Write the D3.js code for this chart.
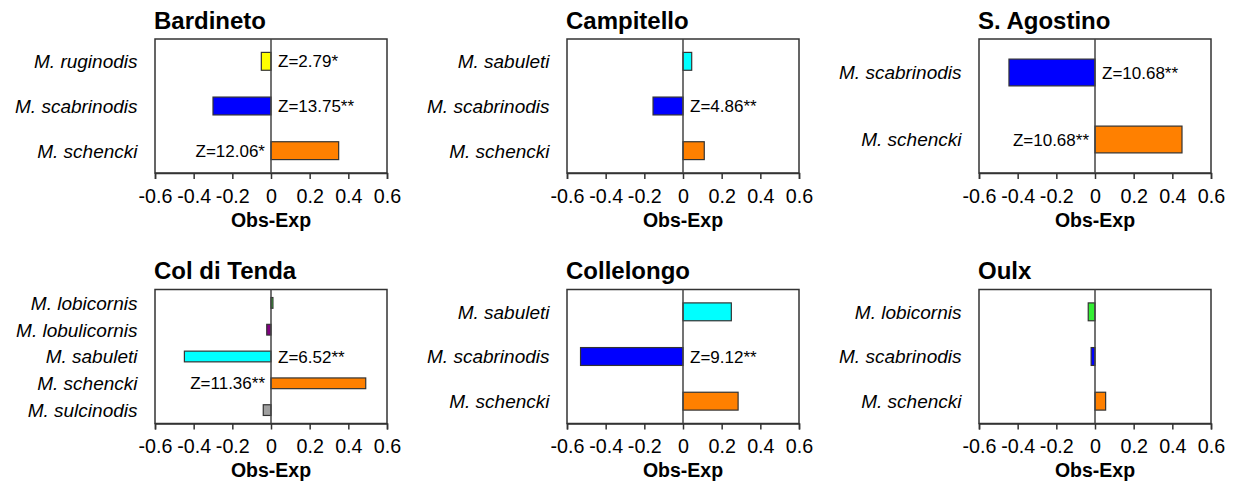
<!DOCTYPE html>
<html>
<head>
<meta charset="utf-8">
<script src="https://cdn.jsdelivr.net/npm/d3@7"></script>
<style>
    body { margin: 0; background: #fff; }
    svg text { font-family: "Liberation Sans", Arial, sans-serif; fill: #000; }
</style>
</head>
<body>
<div id="chart-area"></div>
<script>
/*
Obs-Exp of Myrmica species found at each site.
Z score is written next to the zero line where it was significant.
*/

const siteNames = ["Bardineto", "Campitello", "S. Agostino", "Col di Tenda", "Collelongo", "Oulx"];

const siteSpecies = [
    ["M. ruginodis", "M. scabrinodis", "M. schencki"],
    ["M. sabuleti", "M. scabrinodis", "M. schencki"],
    ["M. scabrinodis", "M. schencki"],
    ["M. lobicornis", "M. lobulicornis", "M. sabuleti", "M. schencki", "M. sulcinodis"],
    ["M. sabuleti", "M. scabrinodis", "M. schencki"],
    ["M. lobicornis", "M. scabrinodis", "M. schencki"]
];

const siteValues = [
    [-0.05, -0.30, 0.35],
    [0.045, -0.155, 0.11],
    [-0.445, 0.45],
    [0.01, -0.022, -0.448, 0.49, -0.04],
    [0.25, -0.53, 0.285],
    [-0.035, -0.02, 0.055]
];

const siteZLabels = [
    ["Z=2.79*", "Z=13.75**", "Z=12.06*"],
    [null, "Z=4.86**", null],
    ["Z=10.68**", "Z=10.68**"],
    [null, null, "Z=6.52**", "Z=11.36**", null],
    [null, "Z=9.12**", null],
    [null, null, null]
];

const xTicks = [-0.6, -0.4, -0.2, 0, 0.2, 0.4, 0.6];

const speciesColours = {
    "M. ruginodis": "#ffff00",
    "M. scabrinodis": "#0000ff",
    "M. schencki": "#ff8000",
    "M. sabuleti": "#00ffff",
    "M. lobicornis": "#33ee33",
    "M. lobulicornis": "#800080",
    "M. sulcinodis": "#a0a0a0"
};

class ObsExpPanel {

    constructor(svg, index) {
        this.svg = svg;
        this.index = index;

        this.initVis();
    }

    initVis() {
        let vis = this;

        vis.width = 232;
        vis.height = 134;
        let left = [155, 567, 979][vis.index % 3];
        let top = [39, 289.5][Math.floor(vis.index / 3)];

        vis.g = vis.svg.append("g")
            .attr("transform", `translate(${left}, ${top})`);

        vis.x = d3.scaleLinear()
            .domain([-0.6, 0.6])
            .range([0, vis.width]);

        vis.y = d3.scaleBand()
            .domain(siteSpecies[vis.index])
            .range([0, vis.height])
            .paddingInner(0.6)
            .paddingOuter(0.3);

        // title
        vis.g.append("text")
            .attr("x", -1)
            .attr("y", -10.5)
            .style("font-size", "24px")
            .style("font-weight", "bold")
            .text(siteNames[vis.index]);

        vis.wrangleData();
    }

    wrangleData() {
        let vis = this;

        vis.displayData = siteSpecies[vis.index].map((sp, i) => ({
            species: sp,
            value: siteValues[vis.index][i],
            z: siteZLabels[vis.index][i]
        }));

        vis.updateVis();
    }

    updateVis() {
        let vis = this;

        // frame
        vis.g.append("rect")
            .attr("width", vis.width)
            .attr("height", vis.height)
            .attr("fill", "none")
            .attr("stroke", "#333")
            .attr("stroke-width", 1.5);

        // x axis
        let xAxis = d3.axisBottom(vis.x)
            .tickValues(xTicks)
            .tickSize(6)
            .tickPadding(10)
            .tickFormat(d => d === 0 ? "0" : d.toFixed(1));

        let axisG = vis.g.append("g")
            .attr("transform", `translate(0, ${vis.height})`)
            .call(xAxis);
        axisG.select(".domain").attr("stroke", "#333").attr("stroke-width", 1.5);
        axisG.selectAll(".tick line").attr("stroke", "#333").attr("stroke-width", 1.5);
        axisG.selectAll(".tick text")
            .style("font-size", "19.7px")
            .style("font-family", "'Liberation Sans', Arial, sans-serif")
            .attr("fill", "#000");

        vis.g.append("text")
            .attr("x", vis.x(0))
            .attr("y", vis.height + 53.5)
            .attr("text-anchor", "middle")
            .style("font-size", "19.5px")
            .style("font-weight", "bold")
            .text("Obs-Exp");

        // species labels
        vis.g.selectAll(".sp-label")
            .data(vis.displayData)
            .enter().append("text")
            .attr("class", "sp-label")
            .attr("x", -17.5)
            .attr("y", d => vis.y(d.species) + vis.y.bandwidth() / 2)
            .attr("dy", "0.36em")
            .attr("text-anchor", "end")
            .style("font-size", "19px")
            .style("font-style", "italic")
            .text(d => d.species);

        // bars
        vis.g.selectAll(".bar")
            .data(vis.displayData)
            .enter().append("rect")
            .attr("class", "bar")
            .attr("x", d => vis.x(Math.min(0, d.value)))
            .attr("y", d => vis.y(d.species))
            .attr("width", d => Math.abs(vis.x(d.value) - vis.x(0)))
            .attr("height", vis.y.bandwidth())
            .attr("fill", d => speciesColours[d.species])
            .attr("stroke", "#333")
            .attr("stroke-width", 1.2);

        // zero line
        vis.g.append("line")
            .attr("x1", vis.x(0))
            .attr("x2", vis.x(0))
            .attr("y1", 0)
            .attr("y2", vis.height)
            .attr("stroke", "#444")
            .attr("stroke-width", 1.5);

        // Z scores, on the side opposite to the bar
        vis.g.selectAll(".z-label")
            .data(vis.displayData.filter(d => d.z))
            .enter().append("text")
            .attr("class", "z-label")
            .attr("x", d => d.value < 0 ? vis.x(0) + 7 : vis.x(0) - 6)
            .attr("y", d => vis.y(d.species) + vis.y.bandwidth() / 2)
            .attr("dy", "0.36em")
            .attr("text-anchor", d => d.value < 0 ? "start" : "end")
            .style("font-size", "17px")
            .text(d => d.z);
    }
}

let svg = d3.select("#chart-area").append("svg")
    .attr("width", 1238)
    .attr("height", 481);

let panels = siteNames.map((s, i) => new ObsExpPanel(svg, i));
</script>
</body>
</html>
